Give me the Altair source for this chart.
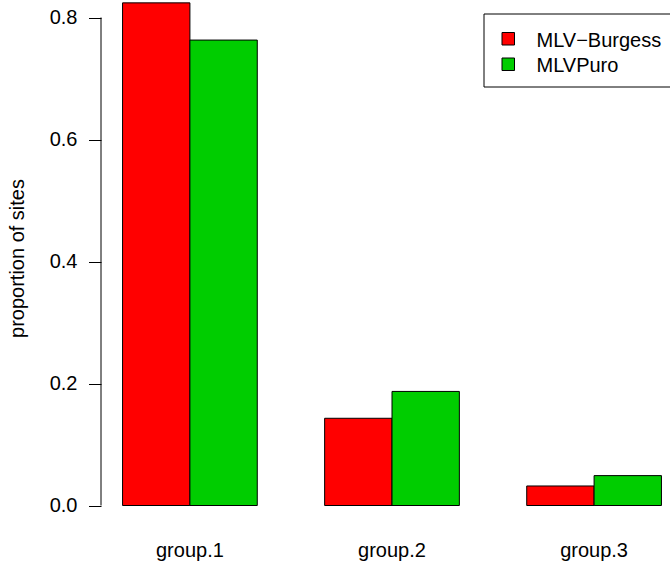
import altair as alt
import pandas as pd

# ---- data ----
groups = ["group.1", "group.2", "group.3"]
series = ["MLV−Burgess", "MLVPuro"]
burgess = [0.824, 0.143, 0.032]
puro = [0.763, 0.187, 0.049]
y_ticks = [0.0, 0.2, 0.4, 0.6, 0.8]
colors = ["#FF0000", "#00CD00"]

rows = []
for g, b, p in zip(groups, burgess, puro):
    rows.append({"group": g, "series": series[0], "value": b})
    rows.append({"group": g, "series": series[1], "value": p})
df = pd.DataFrame(rows)

FONT = "Liberation Sans"
FS = 20
W, H = 569, 531
PAD_L = 101

yscale = alt.Scale(domain=[-0.0418, 0.8287], nice=False, zero=False)
xscale = alt.Scale(domain=groups, range=[0, 582], paddingInner=1 / 3, paddingOuter=0.1067)
color_scale = alt.Scale(domain=series, range=colors)

bars = alt.Chart(df).mark_bar(stroke="black", strokeWidth=1, opacity=1).encode(
    x=alt.X(
        "group:N", scale=xscale, sort=groups,
        axis=alt.Axis(title=None, ticks=False, tickSize=0, domain=False, labelFontSize=FS,
                      labelFont=FONT, labelColor="black", labelPadding=25,
                      labelBaseline="alphabetic", labelAngle=0),
    ),
    xOffset=alt.XOffset("series:N", sort=series, scale=alt.Scale(paddingInner=0, paddingOuter=0)),
    y=alt.Y(
        "value:Q", scale=yscale, stack=None,
        axis=alt.Axis(values=y_ticks, format=".1f", domain=False, grid=False, tickSize=12.5,
                      tickColor="black", tickWidth=1, labelPadding=11.5, labelFontSize=FS,
                      labelFont=FONT, labelColor="black", title="proportion of sites",
                      titleFontSize=FS, titleFont=FONT, titleFontWeight="normal",
                      titleColor="black", titleX=-77.5, titleY=258, titleAngle=270,
                      titleBaseline="alphabetic", titleAlign="center"),
    ),
    y2=alt.datum(0),
    color=alt.Color("series:N", scale=color_scale, legend=None),
)

axis_line = alt.Chart(pd.DataFrame({"a": [0]})).mark_rule(color="black", strokeWidth=1).encode(
    x=alt.value(0),
    y=alt.datum(y_ticks[0]),
    y2=alt.datum(y_ticks[-1]),
)

# ---- legend (R style, box running off the right edge) ----
legend_box = alt.Chart(pd.DataFrame({"a": [0]})).mark_rect(
    fillOpacity=0, stroke="black", strokeWidth=1
).encode(
    x=alt.value(383), x2=alt.value(620), y=alt.value(14), y2=alt.value(87)
)

legend_layers = [legend_box]
sq_tops = [32.5, 58]
text_base = [46.5, 72]
for name, top, base in zip(series, sq_tops, text_base):
    ldf = pd.DataFrame({"series": [name]})
    legend_layers.append(
        alt.Chart(ldf).mark_rect(stroke="black", strokeWidth=1).encode(
            x=alt.value(401), x2=alt.value(413.5), y=alt.value(top), y2=alt.value(top + 12.5),
            color=alt.Color("series:N", scale=color_scale, legend=None),
        )
    )
    legend_layers.append(
        alt.Chart(ldf).mark_text(align="left", baseline="alphabetic", font=FONT,
                                 fontSize=FS, color="black").encode(
            x=alt.value(435.5), y=alt.value(base), text="series:N"
        )
    )

chart = alt.layer(bars, axis_line, *legend_layers).properties(
    width=W, height=H,
    autosize=alt.AutoSizeParams(type="none"),
    padding={"left": PAD_L, "top": 0, "right": 0, "bottom": 38},
    background="white",
).configure_view(stroke=None)

chart.save("out.html", embed_options={"renderer": "svg", "actions": False})
